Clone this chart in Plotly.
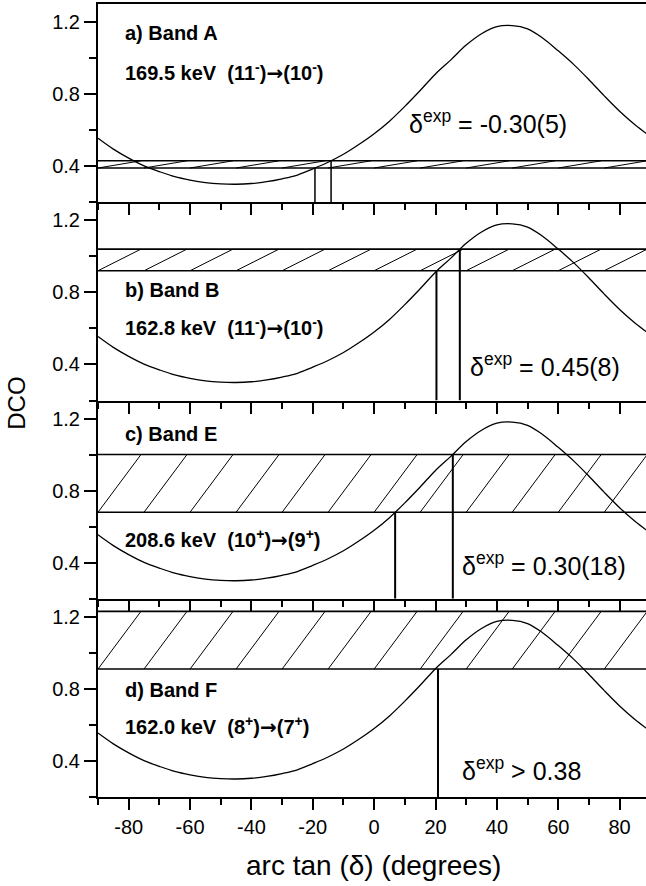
import numpy as np
import plotly.graph_objects as go

# Calculated DCO as a function of arctan(delta), in degrees
angle_deg = list(range(-90, 95, 5))
dco_calc = [0.555, 0.495, 0.445, 0.402, 0.370, 0.342, 0.323, 0.309, 0.302, 0.300,
            0.304, 0.314, 0.330, 0.351, 0.385, 0.422, 0.466, 0.520, 0.580, 0.650,
            0.732, 0.820, 0.912, 0.990, 1.072, 1.135, 1.174, 1.180, 1.162, 1.110,
            1.040, 0.965, 0.880, 0.790, 0.705, 0.630, 0.565]

# Measured DCO ratios (value, uncertainty) and deduced mixing ratios
ARROW = "<span style=\"font-family:DejaVu Sans\">\u2192</span>"
panel_tag = ["a) Band A", "b) Band B", "c) Band E", "d) Band F"]
transition = [
    f"169.5 keV\u00a0\u00a0(11<sup>-</sup>){ARROW}(10<sup>-</sup>)",
    f"162.8 keV\u00a0\u00a0(11<sup>-</sup>){ARROW}(10<sup>-</sup>)",
    f"208.6 keV\u00a0\u00a0(10<sup>+</sup>){ARROW}(9<sup>+</sup>)",
    f"162.0 keV\u00a0\u00a0(8<sup>+</sup>){ARROW}(7<sup>+</sup>)",
]
dco_exp = [0.41, 0.98, 0.84, 1.07]
dco_err = [0.02, 0.06, 0.16, 0.16]
delta_exp = [-0.30, 0.45, 0.30, 0.38]
delta_err = [0.05, 0.08, 0.18, None]   # last one is a lower limit
delta_label = [
    "\u03b4<sup>exp</sup> = -0.30(5)",
    "\u03b4<sup>exp</sup> = 0.45(8)",
    "\u03b4<sup>exp</sup> = 0.30(18)",
    "\u03b4<sup>exp</sup> > 0.38",
]

x_ticks = [-80, -60, -40, -20, 0, 20, 40, 60, 80]
x_ticktext = ["-80", "-60", "-40", "-20", "0", "20", "40", "60", "80"]
y_ticks = [0.4, 0.8, 1.2]
y_ticktext = ["0.4", "0.8", "1.2"]
y_minor = [0.2, 0.6, 1.0]

# label placement inside each panel
tag_y = [1.137, 0.8125, 1.112, 0.796]
trans_y = [0.925, 0.609, 0.53, 0.593]
delta_xy = [(10.7, 0.648), (30.7, 0.397), (28.0, 0.391), (28.0, 0.353)]

X_RANGE = [-90, 88.6]
Y_RANGE = [0.2, 1.3]
FONT = "Liberation Sans, Arial, Helvetica, sans-serif"
HATCH_STEP = 15
HATCH_RUN = 14

fig = go.Figure()
domains = [[0.75, 1.0], [0.5, 0.75], [0.25, 0.5], [0.0, 0.25]]

for i in range(4):
    xa = "x" if i == 0 else f"x{i+1}"
    ya = "y" if i == 0 else f"y{i+1}"
    lo = dco_exp[i] - dco_err[i]
    hi = dco_exp[i] + dco_err[i]

    # hatch lines of the experimental band
    hx, hy = [], []
    for k in range(-1, 14):
        x0 = -90 + HATCH_STEP * k
        hx += [x0, x0 + HATCH_RUN, None]
        hy += [lo, hi, None]
    fig.add_trace(go.Scatter(x=hx, y=hy, xaxis=xa, yaxis=ya, mode="lines",
                             line=dict(color="black", width=1), hoverinfo="skip",
                             showlegend=False))
    # band edges
    for edge in (lo, hi):
        fig.add_trace(go.Scatter(x=[-90, 90], y=[edge, edge], xaxis=xa, yaxis=ya,
                                 mode="lines", line=dict(color="black", width=1.6),
                                 hoverinfo="skip", showlegend=False))
    # calculated curve
    fig.add_trace(go.Scatter(x=angle_deg, y=dco_calc, xaxis=xa, yaxis=ya,
                             mode="lines", line=dict(color="black", width=1.3, shape="spline"),
                             showlegend=False))
    # arctan(delta) limits
    if delta_err[i] is None:
        limits = [(np.degrees(np.arctan(delta_exp[i])), lo)]
    else:
        limits = [(np.degrees(np.arctan(delta_exp[i] - delta_err[i])), lo),
                  (np.degrees(np.arctan(delta_exp[i] + delta_err[i])), hi)]
    vx, vy = [], []
    for xv, top in limits:
        vx += [xv, xv, None]
        vy += [Y_RANGE[0], top, None]
    fig.add_trace(go.Scatter(x=vx, y=vy, xaxis=xa, yaxis=ya, mode="lines",
                             line=dict(color="black", width=1.5 if i == 0 else 2),
                             hoverinfo="skip", showlegend=False))

    # labels
    fig.add_annotation(x=-82, y=tag_y[i], xref=xa, yref=ya, text=f"<b>{panel_tag[i]}</b>",
                       showarrow=False, xanchor="left", yanchor="middle",
                       font=dict(family=FONT, size=20, color="black"))
    fig.add_annotation(x=-82, y=trans_y[i], xref=xa, yref=ya, text=f"<b>{transition[i]}</b>",
                       showarrow=False, xanchor="left", yanchor="middle",
                       font=dict(family=FONT, size=20, color="black"))
    fig.add_annotation(x=delta_xy[i][0], y=delta_xy[i][1], xref=xa, yref=ya, text=delta_label[i],
                       showarrow=False, xanchor="left", yanchor="middle",
                       font=dict(family=FONT, size=25, color="black"))

    xkey = "xaxis" if i == 0 else f"xaxis{i+1}"
    ykey = "yaxis" if i == 0 else f"yaxis{i+1}"
    fig.layout[xkey] = dict(
        domain=[0, 1], anchor=ya, range=X_RANGE, showgrid=False, zeroline=False,
        showline=True, linewidth=2, linecolor="black", mirror=(i == 0),
        ticks="outside", ticklen=11, tickwidth=2, tickcolor="black",
        tickvals=x_ticks, ticktext=x_ticktext, showticklabels=(i == 3),
        tickfont=dict(family=FONT, size=20, color="black"),
        minor=dict(ticks="outside", tick0=0, dtick=10, ticklen=6, tickwidth=2, tickcolor="black"),
    )
    fig.layout[ykey] = dict(
        domain=domains[i], anchor=xa, range=Y_RANGE, showgrid=False, zeroline=False,
        showline=True, linewidth=2, linecolor="black", mirror=False,
        ticks="outside", ticklen=12, tickwidth=2, tickcolor="black",
        tickvals=y_ticks, ticktext=y_ticktext,
        tickfont=dict(family=FONT, size=20, color="black"),
        minor=dict(ticks="outside", tickvals=y_minor, ticklen=7, tickwidth=2, tickcolor="black"),
    )
    # inward ticks along the right-hand side
    fig.layout[f"yaxis{i+5}"] = dict(
        overlaying=ya, anchor=xa, side="right", range=Y_RANGE, showgrid=False,
        zeroline=False, showline=False, ticks="inside", ticklen=8, tickwidth=2,
        tickcolor="black", tickvals=y_ticks, showticklabels=False,
        minor=dict(ticks="inside", tickvals=y_minor, ticklen=3, tickwidth=2, tickcolor="black"),
    )

# inward ticks along the top edge of the first panel
fig.layout["xaxis5"] = dict(
    overlaying="x", anchor="y", side="top", range=X_RANGE, showgrid=False, zeroline=False,
    showline=False, ticks="inside", ticklen=11, tickwidth=2, tickcolor="black",
    tickvals=x_ticks, showticklabels=False,
    minor=dict(ticks="inside", tick0=0, dtick=10, ticklen=6, tickwidth=2, tickcolor="black"),
)

# axis titles
fig.add_annotation(x=0.502, y=-0.087, xref="paper", yref="paper",
                   text="arc tan (\u03b4) (degrees)", showarrow=False,
                   xanchor="center", yanchor="middle",
                   font=dict(family=FONT, size=28, color="black"))
fig.add_annotation(x=-0.148, y=0.497, xref="paper", yref="paper", text="DCO",
                   showarrow=False, textangle=-90, xanchor="center", yanchor="middle",
                   font=dict(family=FONT, size=24, color="black"))

fig.update_layout(
    width=646, height=886,
    margin=dict(l=98, r=0, t=4, b=89),
    paper_bgcolor="white", plot_bgcolor="rgba(0,0,0,0)",
    font=dict(family=FONT, color="black"),
    showlegend=False,
)

fig.write_html("out.html")
